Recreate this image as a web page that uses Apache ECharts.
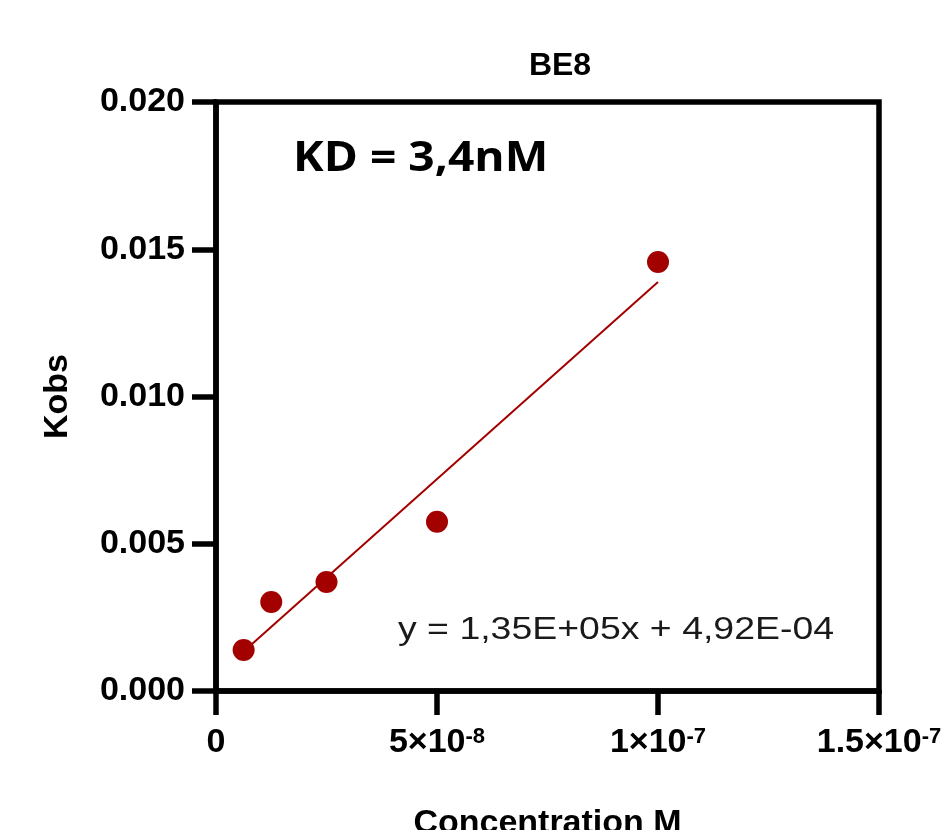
<!DOCTYPE html>
<html>
<head>
<meta charset="utf-8">
<script src="https://cdn.jsdelivr.net/npm/echarts@6/dist/echarts.min.js"></script>
<style>html,body{margin:0;padding:0;background:#fff}#c{width:941px;height:830px}</style>
</head>
<body>
<div id="c"></div>
<script>
// Data
const concentrations = [6.25e-9, 1.25e-8, 2.5e-8, 5e-8, 1e-7];
const kobsValues = [0.00139, 0.00302, 0.00370, 0.00575, 0.01457];
const fitLineX = [6.25e-9, 1e-7];
const fitLineY = [0.00134, 0.01389];
const xTickLabels = {0: ['0', ''], 5e-8: ['5×10', '-8'], 1e-7: ['1×10', '-7'], 1.5e-7: ['1.5×10', '-7']};
const yTicks = ['0.000', '0.005', '0.010', '0.015', '0.020'];

const chart = echarts.init(document.getElementById('c'), null, {renderer: 'canvas'});
const red = '#a30000';
const lw = 5.5;
const fam = '"Liberation Sans", Arial, sans-serif';
const fs = 34;

function xLabel(v) {
  let key = null;
  for (const k of Object.keys(xTickLabels)) {
    if (Math.abs(Number(k) - v) < 1e-12) key = k;
  }
  if (key === null) return '';
  const p = xTickLabels[key];
  return p[1] ? '{b|' + p[0] + '}{s|' + p[1] + '}' : '{b|' + p[0] + '}';
}

chart.setOption({
  animation: false,
  title: {
    text: 'BE8', left: 555, top: 45, textAlign: 'center',
    textStyle: {fontFamily: fam, fontWeight: 'bold', fontSize: 32, color: '#000'}
  },
  grid: {left: 216, right: 62, top: 102, bottom: 139, show: true, borderColor: '#000', borderWidth: lw,
         containLabel: false, outerBoundsMode: 'none'},
  xAxis: {
    type: 'value', min: 0, max: 1.5e-7, interval: 5e-8,
    name: 'Concentration M', nameLocation: 'middle', nameGap: 116,
    nameTextStyle: {fontFamily: fam, fontWeight: 'bold', fontSize: fs, color: '#000'},
    axisLine: {show: true, onZero: false, lineStyle: {color: '#000', width: lw}},
    axisTick: {show: true, length: 24, lineStyle: {color: '#000', width: lw}},
    splitLine: {show: false},
    axisLabel: {
      margin: 35, formatter: xLabel, color: '#000', hideOverlap: false,
      rich: {
        b: {fontFamily: fam, fontWeight: 'bold', fontSize: fs, lineHeight: 34, color: '#000'},
        s: {fontFamily: fam, fontWeight: 'bold', fontSize: 22, lineHeight: 22, color: '#000', verticalAlign: 'top', padding: [0, 0, 18, 0]}
      }
    }
  },
  yAxis: {
    type: 'value', min: 0, max: 0.02, interval: 0.005,
    name: 'Kobs', nameLocation: 'middle', nameGap: 141, nameRotate: 90,
    nameTextStyle: {fontFamily: fam, fontWeight: 'bold', fontSize: fs, color: '#000'},
    axisLine: {show: true, onZero: false, lineStyle: {color: '#000', width: lw}},
    axisTick: {show: true, length: 24, lineStyle: {color: '#000', width: lw}},
    splitLine: {show: false},
    axisLabel: {
      margin: 31, color: '#000', fontFamily: fam, fontWeight: 'bold', fontSize: fs,
      formatter: (v) => yTicks[Math.round(v / 0.005)]
    }
  },
  graphic: [
    {type: 'text', x: 293, y: 138, scaleX: 1.1,
     style: {text: 'KD = 3,4nM', fill: '#000', font: 'bold 42px "Open Sans", "Noto Sans", sans-serif', textVerticalAlign: 'top'}},
    {type: 'text', x: 398, y: 614, scaleX: 1.17,
     style: {text: 'y = 1,35E+05x + 4,92E-04', fill: '#1a1a1a', font: '32px "Liberation Sans", Arial, sans-serif', textVerticalAlign: 'top'}}
  ],
  series: [
    {
      type: 'line', data: fitLineX.map((x, i) => [x, fitLineY[i]]),
      showSymbol: false, symbol: 'none', lineStyle: {color: red, width: 2}, z: 2, silent: true
    },
    {
      type: 'scatter', data: concentrations.map((x, i) => [x, kobsValues[i]]),
      symbol: 'circle', symbolSize: 22, itemStyle: {color: red, opacity: 1}, z: 3
    }
  ]
});
</script>
</body>
</html>
